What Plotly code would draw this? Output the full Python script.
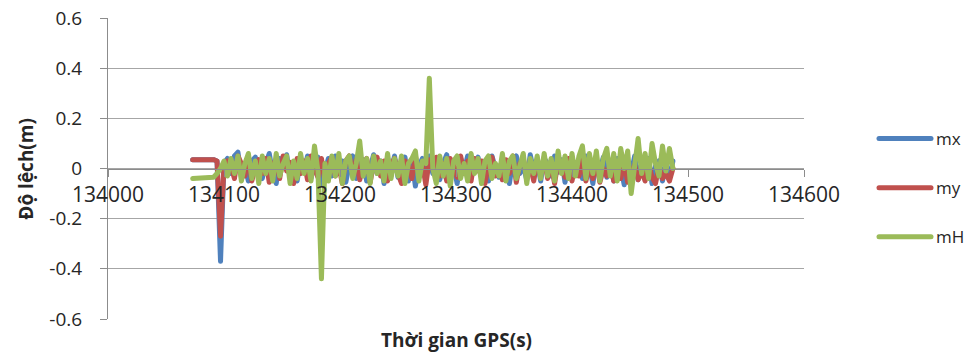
import plotly.graph_objects as go

# GPS time samples (s)
t_start = 134073
t_step = 3
n_pts = 139
gps_time = [t_start + t_step * k for k in range(n_pts)]

mx = [0.035, 0.035, 0.035, 0.035, 0.035, 0.035, 0.035, 0.03, -0.37, 0.02,
      0.04, -0.02, 0.05, 0.065, -0.03, 0.01, -0.05, 0.03, 0.045, -0.01,
      -0.04, 0.02, 0.06, -0.02, -0.06, 0.04, 0.01, 0.055, -0.03, 0.02,
      -0.05, 0.03, -0.01, 0.05, -0.04, 0.02, 0.045, -0.06, 0.0, 0.04,
      -0.03, 0.05, -0.02, 0.03, -0.055, 0.015, 0.05, -0.04, 0.02, 0.035,
      -0.05, 0.01, 0.055, -0.02, 0.03, -0.06, 0.04, -0.01, 0.05, -0.035,
      0.02, 0.045, -0.05, 0.03, -0.07, 0.01, 0.04, -0.03, 0.05, -0.02,
      0.035, -0.045, 0.02, 0.055, -0.03, 0.01, -0.06, 0.04, -0.01, 0.05,
      -0.04, 0.02, 0.045, -0.02, 0.03, -0.05, 0.05, 0.0, -0.035, 0.04,
      0.02, -0.06, 0.03, 0.05, -0.02, 0.01, -0.045, 0.055, -0.01, 0.03,
      -0.05, 0.04, 0.02, -0.03, 0.05, -0.015, 0.035, -0.055, 0.02, 0.045,
      -0.02, 0.03, -0.04, 0.05, 0.01, -0.06, 0.035, -0.01, 0.045, -0.035,
      0.02, -0.05, 0.04, 0.01, -0.065, 0.03, -0.02, 0.05, -0.045, 0.02,
      -0.03, 0.04, -0.06, 0.01, 0.03, -0.05, 0.02, -0.04, 0.03]

my = [0.035, 0.035, 0.035, 0.035, 0.035, 0.035, 0.035, 0.03, -0.27, 0.01,
      0.03, 0.01, -0.04, 0.05, 0.02, -0.03, 0.045, -0.05, 0.01, 0.035,
      -0.02, 0.04, -0.055, 0.02, 0.03, -0.04, 0.05, -0.01, 0.025, -0.06,
      0.04, -0.02, 0.03, -0.045, 0.05, 0.0, -0.035, 0.04, -0.05, 0.02,
      0.045, -0.03, 0.01, -0.06, 0.03, 0.05, -0.02, 0.035, -0.045, 0.01,
      0.04, -0.055, 0.02, 0.045, -0.03, 0.03, -0.05, 0.015, 0.04, -0.02,
      -0.06, 0.03, 0.01, -0.04, 0.05, -0.025, 0.02, -0.065, 0.035, 0.0,
      0.045, -0.03, 0.02, -0.05, 0.04, 0.01, -0.035, 0.05, -0.02, 0.03,
      -0.05, 0.04, -0.01, 0.03, -0.06, 0.02, 0.045, -0.03, 0.01, -0.045,
      0.035, -0.02, 0.05, -0.055, 0.02, 0.04, -0.03, 0.01, -0.05, 0.03,
      -0.01, 0.045, -0.04, 0.02, -0.06, 0.03, 0.01, -0.035, 0.04, -0.05,
      0.02, -0.03, 0.035, -0.05, 0.01, -0.04, 0.03, -0.055, 0.0, -0.03,
      0.02, -0.05, 0.01, -0.04, 0.025, -0.055, -0.02, 0.015, -0.045, -0.01,
      -0.05, 0.02, -0.035, -0.06, 0.01, -0.04, -0.02, -0.05, 0.0]

mH = [-0.04, -0.04, -0.04, -0.04, -0.04, -0.04, -0.035, -0.02, 0.0, 0.03,
      -0.03, 0.04, -0.02, 0.05, -0.05, 0.02, 0.06, -0.04, 0.03, -0.06,
      0.05, -0.02, 0.04, -0.05, 0.06, -0.03, 0.02, 0.05, -0.06, 0.03,
      -0.04, 0.06, -0.02, 0.04, -0.05, 0.09, -0.01, -0.44, 0.02, -0.05,
      0.05, -0.03, 0.06, -0.06, 0.03, 0.05, -0.04, 0.02, 0.11, -0.03,
      0.04, -0.06, 0.05, -0.02, 0.03, -0.05, 0.06, -0.04, 0.04, -0.03,
      0.05, -0.06, 0.02, 0.04, 0.07, -0.05, 0.03, 0.02, 0.36, 0.0,
      -0.06, 0.05, -0.03, 0.04, -0.07, 0.03, 0.05, -0.04, 0.02, -0.05,
      0.06, -0.02, 0.04, -0.06, 0.03, 0.05, -0.04, 0.02, -0.03, 0.06,
      -0.05, 0.03, 0.05, -0.04, 0.01, 0.06, -0.06, 0.04, -0.02, 0.05,
      -0.04, 0.06, -0.03, 0.04, -0.05, 0.07, -0.02, 0.05, -0.04, 0.06,
      -0.03, 0.05, 0.09, -0.04, 0.06, -0.02, 0.07, -0.05, 0.04, 0.08,
      -0.03, 0.06, -0.05, 0.08, 0.0, 0.07, -0.1, 0.03, 0.12, -0.02,
      0.06, -0.04, 0.1, 0.02, -0.03, 0.09, -0.01, 0.08, 0.0]

series_names = ["mx", "my", "mH"]
series_colors = ["#4F81BD", "#C0504D", "#9BBB59"]

x_tick_vals = [134000, 134100, 134200, 134300, 134400, 134500, 134600]
x_tick_text = ["134000", "134100", "134200", "134300", "134400", "134500", "134600"]
y_tick_vals = [-0.6, -0.4, -0.2, 0, 0.2, 0.4, 0.6]
y_tick_text = ["-0.6", "-0.4", "-0.2", "0", "0.2", "0.4", "0.6"]

x_title = "Thời gian GPS(s)"
y_title = "Độ lệch(m)"

FONT = "Open Sans"
GRID = "#A6A6A6"
AXIS = "#8C8C8C"
TXT = "#262626"

fig = go.Figure()
for name, vals, col in zip(series_names, [mx, my, mH], series_colors):
    fig.add_trace(go.Scatter(
        x=gps_time, y=vals, mode="lines", name=name, legendgroup=name,
        line=dict(color=col, width=5),
    ))

fig.update_layout(
    width=972, height=354,
    margin=dict(l=108, r=168, t=18, b=35, autoexpand=False),
    paper_bgcolor="white", plot_bgcolor="white",
    font=dict(family=FONT, color=TXT),
    showlegend=True,
    legend=dict(
        xref="container", yref="container",
        x=874 / 972, xanchor="left", y=1 - 188 / 354, yanchor="middle",
        font=dict(size=17, family=FONT, color=TXT),
        itemwidth=52, tracegroupgap=24, bgcolor="rgba(0,0,0,0)",
    ),
    xaxis=dict(
        range=[134000, 134600], tickmode="array",
        tickvals=x_tick_vals, ticktext=x_tick_text,
        anchor="free", position=0.5, automargin=False,
        showgrid=False, zeroline=False,
        showline=True, linecolor=AXIS, linewidth=1,
        ticks="outside", ticklen=7, tickcolor=AXIS,
        tickfont=dict(size=21, family=FONT, color=TXT),
    ),
    yaxis=dict(
        range=[-0.6, 0.6], tickmode="array",
        tickvals=y_tick_vals, ticktext=y_tick_text, automargin=False,
        showgrid=True, gridcolor=GRID, gridwidth=1, zeroline=False,
        showline=True, linecolor=AXIS, linewidth=1,
        ticks="outside", ticklen=7, tickcolor=AXIS,
        ticklabelstandoff=14,
        tickfont=dict(size=19, family=FONT, color=TXT),
    ),
    annotations=[
        dict(text="<b>" + x_title + "</b>", xref="paper", yref="paper",
             x=0.5, y=-0.07, xanchor="center", yanchor="middle",
             showarrow=False, font=dict(size=19, family=FONT, color=TXT)),
        dict(text="<b>" + y_title + "</b>", xref="paper", yref="paper",
             x=-0.119, y=0.5, xanchor="center", yanchor="middle", textangle=-90,
             showarrow=False, font=dict(size=19, family=FONT, color=TXT)),
    ],
)

post = (
    "document.body.style.margin='0';"
    "document.body.style.overflow='hidden';"
    "document.querySelectorAll('.js-line, .legendlines path').forEach(function(p){"
    "p.style.strokeLinejoin='round';p.style.strokeLinecap='round';});"
)

fig.write_html("out.html", config={"displayModeBar": False}, post_script=post)
